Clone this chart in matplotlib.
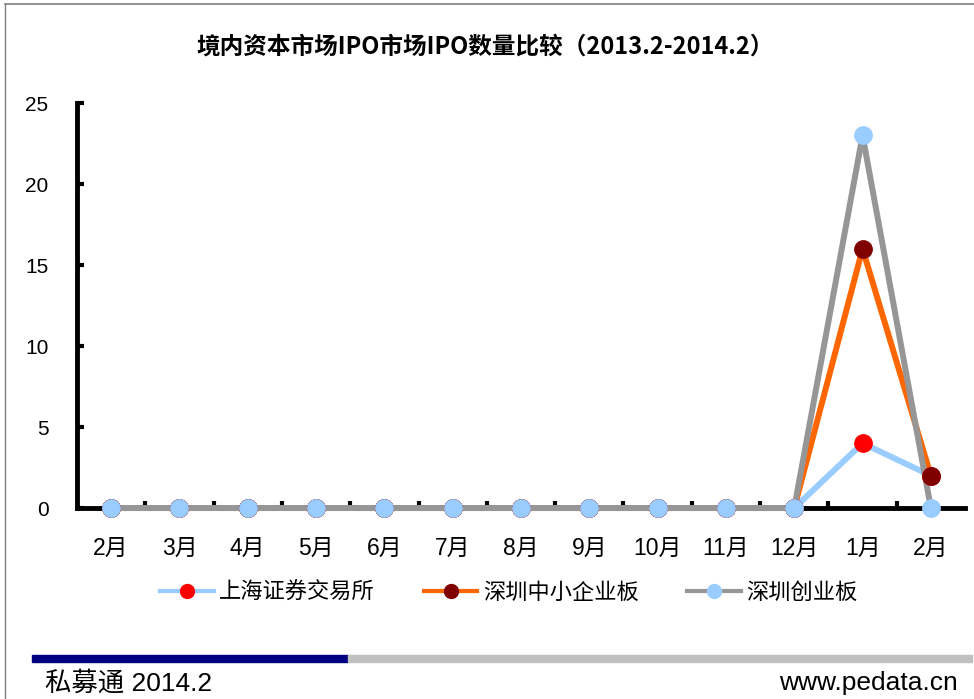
import matplotlib
matplotlib.use("Agg")
import matplotlib.pyplot as plt
from matplotlib.lines import Line2D
from matplotlib.patches import Rectangle

plt.rcParams['font.family'] = ['Liberation Sans', 'Noto Sans CJK SC', 'DejaVu Sans']

months = ["2月", "3月", "4月", "5月", "6月", "7月", "8月", "9月", "10月", "11月", "12月", "1月", "2月"]
shanghai = [0, 0, 0, 0, 0, 0, 0, 0, 0, 0, 0, 4, 2]
sme = [0, 0, 0, 0, 0, 0, 0, 0, 0, 0, 0, 16, 2]
chinext = [0, 0, 0, 0, 0, 0, 0, 0, 0, 0, 0, 23, 0]
series_names = ["上海证券交易所", "深圳中小企业板", "深圳创业板"]
title = "境内资本市场IPO市场IPO数量比较（2013.2-2014.2）"
yticks = [0, 5, 10, 15, 20, 25]

fig = plt.figure(figsize=(9.74, 6.99), dpi=100)
ax = fig.add_axes([0.079, 0.2732, 0.9118, 0.5794])

x = list(range(len(months)))
styles = [
    (shanghai, "#99CCFF", "#FF0000"),
    (sme, "#FF6600", "#800000"),
    (chinext, "#969696", "#99CCFF"),
]
handles = []
for (vals, lc, mc), name in zip(styles, series_names):
    ax.plot(x, vals, color=lc, lw=4.3, zorder=3, clip_on=False)
    ax.plot(x, vals, ls='none', marker='o', ms=12.5, mfc=mc, mec=mc, zorder=4, clip_on=False)
    handles.append(Line2D([0], [0], color=lc, lw=3, marker='o', ms=10, mfc=mc, mec=mc, label=name))

ax.set_xlim(-0.5, len(months) - 0.5)
ax.set_ylim(0, 25)
ax.set_yticks(yticks)
ax.set_yticklabels([str(v) for v in yticks], fontsize=15)
ax.set_xticks([i - 0.5 for i in range(1, len(months))], minor=False)
ax.set_xticklabels([])
ax.set_xticks(x, minor=True)
ax.set_xticklabels(months, minor=True, fontsize=16.5)
ax.tick_params(axis='x', which='major', direction='in', length=5, width=3, color='black')
ax.tick_params(axis='x', which='minor', length=0, pad=21)
ax.tick_params(axis='y', direction='in', length=5, width=3, pad=20.5)
for s in ['top', 'right']:
    ax.spines[s].set_visible(False)
for s in ['left', 'bottom']:
    ax.spines[s].set_linewidth(3.5)
    ax.spines[s].set_zorder(2)

fig.text(0.4985, 0.933, title, ha='center', va='center', fontsize=17, fontweight='bold',
         family=['Noto Sans CJK SC'])

fig.legend(handles=handles, loc='center', bbox_to_anchor=(0.5226, 0.153), ncol=3, frameon=False,
           handlelength=2.4, columnspacing=2.2, handletextpad=0.25,
           prop={'family': ['Noto Sans CJK SC'], 'size': 16})

# footer bars
fig.patches.append(Rectangle((32 / 974, 1 - 662 / 699), (348 - 32) / 974, 7 / 699,
                             transform=fig.transFigure, color='#000080', figure=fig))
fig.patches.append(Rectangle((348 / 974, 1 - 662 / 699), (972 - 348) / 974, 7 / 699,
                             transform=fig.transFigure, color='#C0C0C0', figure=fig))
fig.text(45 / 974, 1 - 683 / 699, "私募通 2014.2", ha='left', va='center', fontsize=19)
fig.text(958 / 974, 1 - 683 / 699, "www.pedata.cn", ha='right', va='center', fontsize=19)

# border lines
fig.add_artist(Line2D([5 / 974, 5 / 974], [0, 1 - 4 / 699], transform=fig.transFigure, color='#808080', lw=1))
fig.add_artist(Line2D([5 / 974, 1], [1 - 4 / 699, 1 - 4 / 699], transform=fig.transFigure, color='#808080', lw=1.2))

fig.savefig("out.png", dpi=100)
